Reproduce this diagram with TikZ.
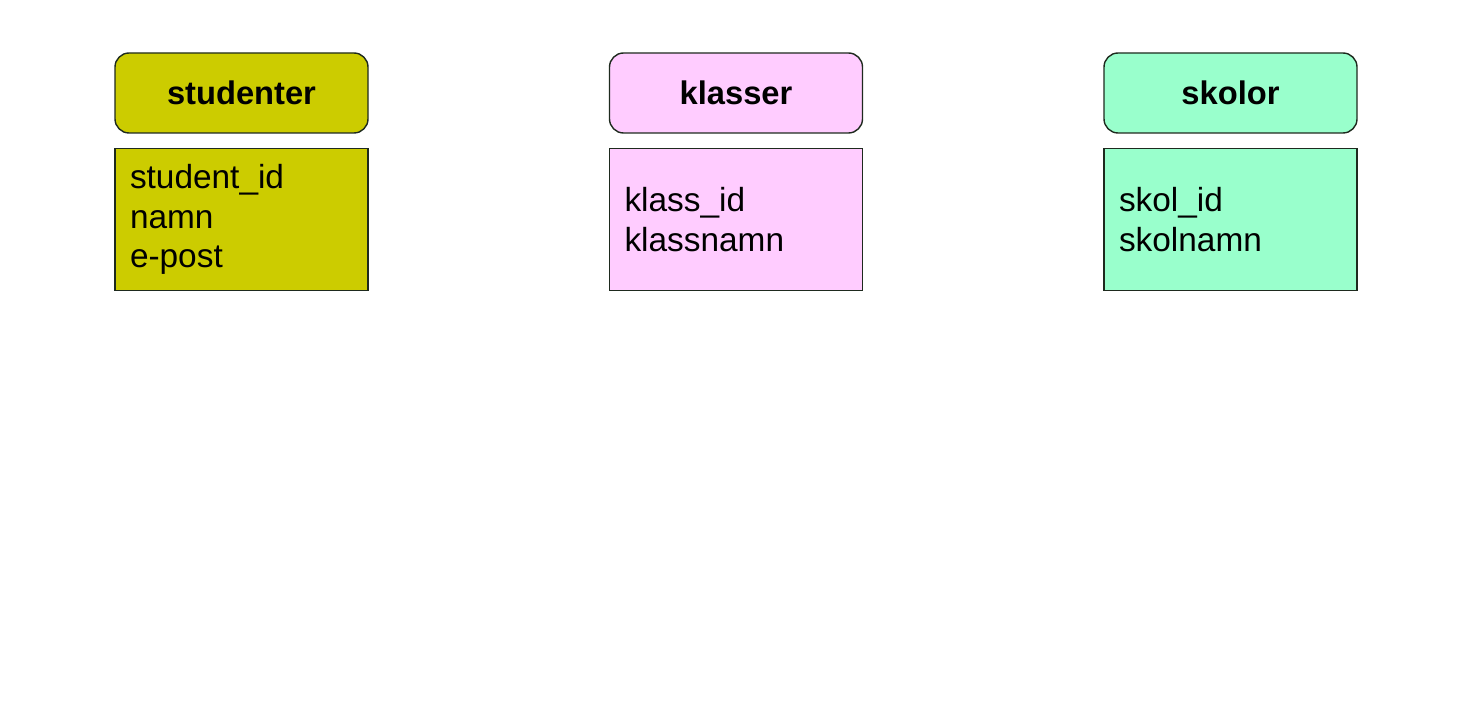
\documentclass[tikz,border=0pt]{standalone}
\usepackage{fontspec}
\setmainfont{Liberation Sans}
\usetikzlibrary{positioning}
\definecolor{olive}{HTML}{CCCC00}
\definecolor{pinkish}{HTML}{FFCCFF}
\definecolor{mint}{HTML}{99FFCC}
\definecolor{edge}{HTML}{1E2A1E}
\tikzset{
  head/.style={draw=edge, thick, rounded corners=8pt, minimum width=5.06cm, minimum height=1.6cm,
    font=\fontsize{18.6}{22}\selectfont\bfseries},
  body/.style={draw=edge, thick, minimum width=5.06cm, minimum height=2.84cm, text width=4.46cm,
    align=left, inner xsep=0.3cm, font=\fontsize{19}{22.7}\selectfont}
}
\begin{document}
\begin{tikzpicture}
        \useasboundingbox (0,0) rectangle (29.48,14.4);

        \node[head, fill=olive] (stud) at (4.83, 12.54) {studenter};
        \node[head, fill=pinkish] (klass) at (14.72, 12.54) {klasser};
        \node[head, fill=mint] (skol) at (24.61, 12.54) {skolor};

        \node[body, fill=olive, below=0.28cm of stud] (studbody) {student\_id\\namn\\e-post};
        \node[body, fill=pinkish, below=0.28cm of klass] (klassbody) {klass\_id\\klassnamn};
        \node[body, fill=mint, below=0.28cm of skol] (skolbody) {skol\_id\\skolnamn};
\end{tikzpicture}
\end{document}
